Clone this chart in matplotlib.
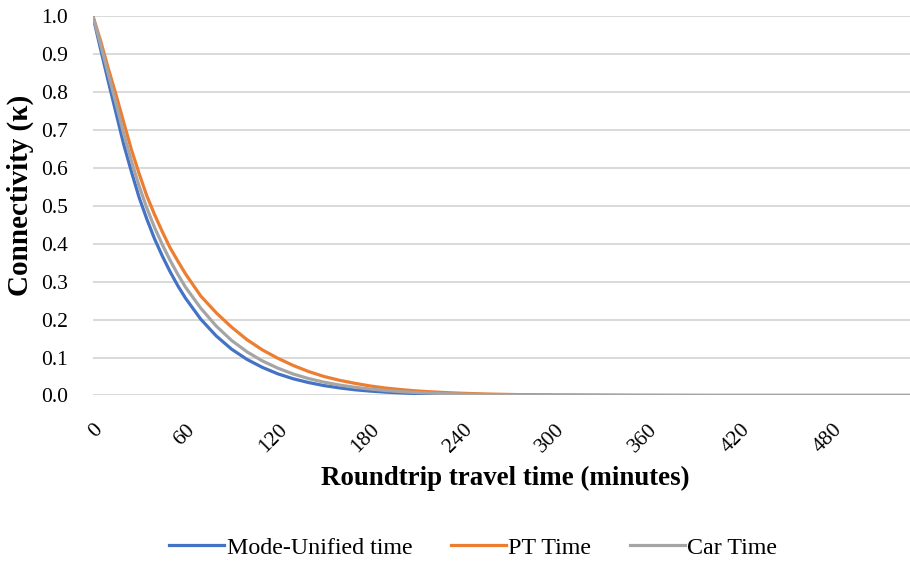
import matplotlib.pyplot as plt

plt.rcParams['font.family'] = ['Liberation Serif', 'DejaVu Serif']

# roundtrip travel time (minutes) and connectivity values
minutes = [0, 5, 10, 15, 20, 25, 30, 35, 40, 45, 50, 55, 60, 70, 80, 90, 100,
           110, 120, 130, 140, 150, 160, 170, 180, 190, 200, 210, 220, 230, 240,
           250, 260, 280, 300, 350, 400, 450, 530]
mode_unified = [1.0, 0.913, 0.828, 0.745, 0.662, 0.59, 0.522, 0.465, 0.413, 0.368,
                0.327, 0.29, 0.257, 0.201, 0.157, 0.122, 0.095, 0.074, 0.057,
                0.044, 0.034, 0.026, 0.02, 0.015, 0.0115, 0.0088, 0.0067, 0.0051,
                0.0039, 0.003, 0.0023, 0.0017, 0.0013, 0.0008, 0.0004, 0.0001,
                0.0, 0.0, 0.0]
pt_time = [1.0, 0.935, 0.862, 0.793, 0.72, 0.648, 0.585, 0.526, 0.477, 0.432,
           0.39, 0.355, 0.321, 0.262, 0.218, 0.18, 0.147, 0.12, 0.098, 0.079,
           0.063, 0.05, 0.04, 0.032, 0.025, 0.0195, 0.0155, 0.012, 0.0095,
           0.0075, 0.0058, 0.0045, 0.0035, 0.002, 0.0012, 0.0003, 0.0, 0.0, 0.0]
car_time = [1.0, 0.925, 0.847, 0.77, 0.69, 0.618, 0.552, 0.494, 0.443, 0.398,
            0.357, 0.32, 0.286, 0.23, 0.183, 0.145, 0.115, 0.091, 0.072, 0.0565,
            0.0445, 0.035, 0.0275, 0.0215, 0.017, 0.013, 0.010, 0.0078, 0.006,
            0.0046, 0.0035, 0.0027, 0.002, 0.0012, 0.0007, 0.0002, 0.0, 0.0, 0.0]

x_ticks = [0, 60, 120, 180, 240, 300, 360, 420, 480]
y_ticks = [0.0, 0.1, 0.2, 0.3, 0.4, 0.5, 0.6, 0.7, 0.8, 0.9, 1.0]

fig = plt.figure(figsize=(9.1, 5.67), dpi=100)
ax = fig.add_axes([0.102, 0.3025, 0.898, 0.6695])

ax.plot(minutes, mode_unified, color='#4472C4', lw=2.3, label='Mode-Unified time')
ax.plot(minutes, pt_time, color='#ED7D31', lw=2.3, label='PT Time')
ax.plot(minutes, car_time, color='#A5A5A5', lw=2.3, label='Car Time')

ax.set_xlim(0, 530)
ax.set_ylim(0, 1.0)
ax.set_yticks(y_ticks)
ax.set_yticklabels([f'{v:.1f}' for v in y_ticks], fontsize=15.5)
ax.set_xticks(x_ticks)
ax.set_xticklabels([str(v) for v in x_ticks], fontsize=15.5, rotation=45,
                   ha='right', va='top', rotation_mode='anchor')
ax.tick_params(length=0, pad=18)
ax.tick_params(axis='y', pad=18)

ax.grid(True, axis='y', color='#D9D9D9', lw=1.4)
ax.set_axisbelow(True)
for s in ax.spines.values():
    s.set_visible(False)

fig.text(0.555, 0.157, 'Roundtrip travel time (minutes)', ha='center', va='center',
         fontsize=19.4, fontweight='bold')
fig.text(0.022, 0.655, 'Connectivity (\u03ba)', ha='center', va='center',
         rotation=90, fontsize=21, fontweight='bold')

fig.legend(loc='center', bbox_to_anchor=(0.52, 0.034), ncol=3, frameon=False,
           fontsize=17.3, handlelength=2.3, handletextpad=0.1, columnspacing=1.6)

fig.savefig('out.png', dpi=100)
